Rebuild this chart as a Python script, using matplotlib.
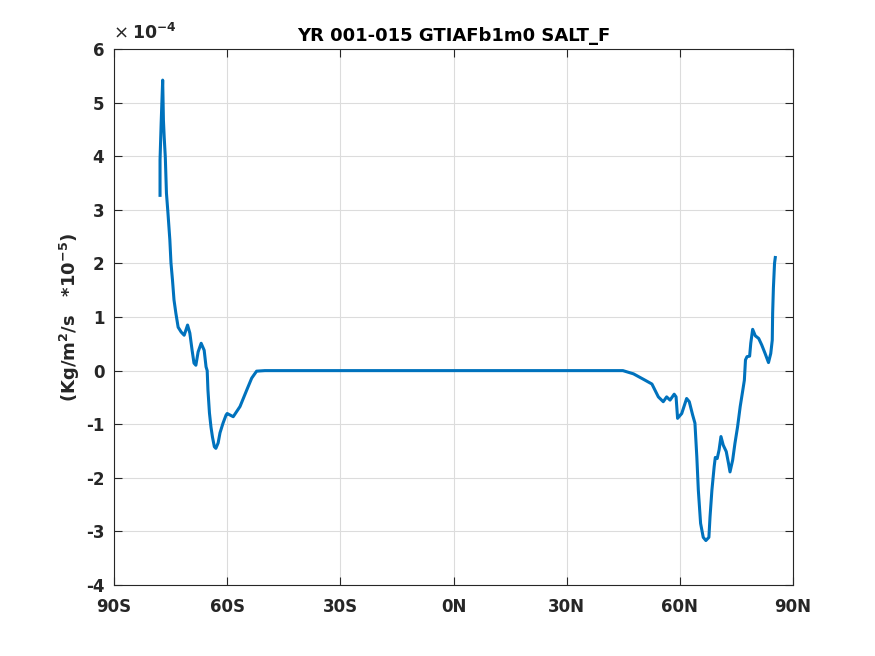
from matplotlib import pyplot as plt
from matplotlib.ticker import FuncFormatter

# latitude (deg) and SALT_F zonal mean (units of 1e-4)
lat = [-77.8, -77.8, -77.5, -77.1, -76.9, -76.7, -76.4, -76.1, -75.7, -75.2,
       -74.9, -74.5, -74.1, -73.6, -73.0, -72.2, -71.4, -70.5, -69.9, -69.3,
       -68.8, -68.3, -67.7, -66.9, -66.1, -65.6, -65.3, -65.1, -64.7, -64.3,
       -63.9, -63.4, -63.0, -62.4, -61.9, -61.1, -60.3, -60.0, -59.2, -58.4,
       -56.6, -54.8, -53.5, -52.2, -50.0, 0.0, 44.9,
       47.7, 50.3, 52.6, 54.3, 55.6, 56.5, 57.4, 58.5, 59.0, 59.4,
       60.5, 61.1, 61.8, 62.5, 63.4, 64.0, 64.5, 64.9, 65.5, 66.2,
       66.9, 67.7, 68.0, 68.5, 69.1, 69.4, 69.9, 70.4, 70.9, 71.5,
       72.3, 72.9, 73.3, 74.0, 74.6, 75.3, 76.0, 76.7, 77.1, 77.4,
       77.8, 78.5, 78.8, 79.3, 80.0, 80.9, 81.7, 82.6, 83.5, 84.1,
       84.5, 84.6, 84.8, 85.1, 85.3]
salt_f = [3.27, 3.93, 4.62, 5.42, 4.67, 4.36, 3.98, 3.31, 2.94, 2.44,
          2.01, 1.69, 1.32, 1.07, 0.81, 0.72, 0.66, 0.85, 0.70, 0.38,
          0.14, 0.10, 0.35, 0.51, 0.38, 0.07, 0.0, -0.36, -0.79, -1.05,
          -1.24, -1.42, -1.45, -1.35, -1.16, -0.98, -0.83, -0.80, -0.83, -0.86,
          -0.67, -0.36, -0.14, -0.01, 0.0, 0.0, 0.0,
          -0.06, -0.16, -0.25, -0.49, -0.58, -0.49, -0.55, -0.44, -0.49, -0.89,
          -0.80, -0.67, -0.52, -0.58, -0.83, -0.98, -1.61, -2.23, -2.85, -3.11,
          -3.17, -3.11, -2.73, -2.23, -1.79, -1.62, -1.64, -1.48, -1.23, -1.39,
          -1.51, -1.73, -1.89, -1.67, -1.36, -1.05, -0.67, -0.36, -0.18, 0.20,
          0.26, 0.27, 0.51, 0.77, 0.65, 0.60, 0.48, 0.32, 0.15, 0.32,
          0.57, 1.07, 1.54, 2.00, 2.11]

xticks = [-90, -60, -30, 0, 30, 60, 90]
xticklabels = ['90S', '60S', '30S', '0N', '30N', '60N', '90N']
yticks = [-4, -3, -2, -1, 0, 1, 2, 3, 4, 5, 6]
scale = 1e-4

plt.rcParams['font.family'] = ['DejaVu Sans']
plt.rcParams['font.weight'] = 'bold'
plt.rcParams['font.size'] = 12
plt.rcParams['axes.unicode_minus'] = False
plt.rcParams['mathtext.default'] = 'bf'

fig = plt.figure(figsize=(8.75, 6.56), dpi=100)
ax = fig.add_axes([0.1303, 0.1082, 0.7760, 0.8171])

ax.plot(lat, [v * scale for v in salt_f], color='#0072BD', linewidth=2.2)

ax.set_xlim(-90, 90)
ax.set_ylim(yticks[0] * scale, yticks[-1] * scale)
ax.set_xticks(xticks)
ax.set_xticklabels(xticklabels)
ax.set_yticks([t * scale for t in yticks])
ax.yaxis.set_major_formatter(FuncFormatter(lambda v, p: '%d' % round(v / scale)))
ax.text(0.0, 1.012, '\u00d7', transform=ax.transAxes, fontsize=13,
        fontweight='normal', color='#262626', ha='left', va='bottom')
ax.text(0.026, 1.012, '10$^{-4}$', transform=ax.transAxes, fontsize=12.5,
        fontweight='bold', color='#262626', ha='left', va='bottom')

ax.grid(True, color='#dcdcdc', linewidth=0.8)
ax.set_axisbelow(True)
ax.tick_params(direction='in', top=True, right=True, colors='#262626',
               length=6, width=0.8, labelsize=12)
ax.tick_params(axis='x', pad=9)
ax.tick_params(axis='y', pad=7)
for s in ax.spines.values():
    s.set_color('#262626')
    s.set_linewidth(0.8)

ax.set_title('YR 001-015 GTIAFb1m0 SALT_F', fontsize=13, fontweight='bold',
             color='black', pad=6)
ax.set_ylabel('(Kg/m$^{2}$/s   *10$^{-5}$)', fontsize=13,
              fontweight='bold', color='#262626', labelpad=3)

plt.savefig('out.png')
